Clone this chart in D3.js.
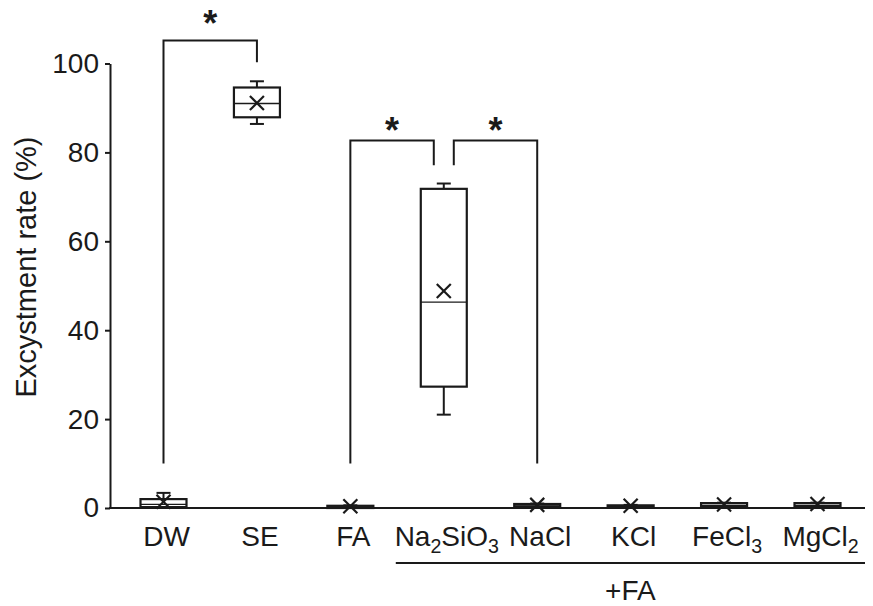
<!DOCTYPE html>
<html>
<head>
<meta charset="utf-8">
<script src="https://cdn.jsdelivr.net/npm/d3@7"></script>
<style>
  body { margin: 0; background: #fff; }
  svg text { font-family: "Liberation Sans", Arial, sans-serif; fill: #1a1a1a; }
</style>
</head>
<body>
<svg id="chart" width="873" height="606"></svg>
<script>
// categories (digits are drawn as subscripts)
const categories = ["DW", "SE", "FA", "Na2SiO3", "NaCl", "KCl", "FeCl3", "MgCl2"];
// box plot stats (%)
const whiskerLow  = [0.0, 86.4, 0.0, 21.0, 0.0, 0.0, 0.0, 0.0];
const q1          = [0.2, 87.9, 0.0, 27.3, 0.3, 0.2, 0.3, 0.3];
const medians     = [0.8, 91.0, 0.2, 46.3, 0.5, 0.4, 0.6, 0.6];
const q3          = [2.0, 94.6, 0.5, 71.8, 0.9, 0.6, 1.1, 1.1];
const whiskerHigh = [3.4, 96.0, 0.6, 73.0, 1.0, 0.7, 1.2, 1.2];
const means       = [1.4, 91.1, 0.4, 48.8, 0.7, 0.5, 0.8, 0.9];
const yTicks = [0, 20, 40, 60, 80, 100];
// significance brackets
const bracketFrom  = ["DW", "FA", "Na2SiO3"];
const bracketTo    = ["SE", "Na2SiO3", "NaCl"];
const bracketTop   = [105.2, 82.7, 82.7];
const bracketFromEnd = [10, 10, 77.1];
const bracketToEnd   = [100.3, 77.1, 10];
const starLevel    = [108.7, 84.6, 84.6];
// group underline
const groupCats = ["Na2SiO3", "MgCl2"];
const groupLabel = "+FA";

const ink = "#1a1a1a";
const svg = d3.select("#chart");

const x = d3.scalePoint().domain(categories).range([163.5, 817.5]);
const y = d3.scaleLinear().domain([0, 100]).range([508, 63.5]);

const boxW = 46, capW = 14, mk = 7;

// axes
const yAxis = svg.append("g")
    .attr("transform", "translate(110,0)")
    .call(d3.axisLeft(y).tickValues(yTicks).tickSize(5).tickSizeOuter(0).tickPadding(6));
yAxis.select(".domain").attr("stroke", ink).attr("stroke-width", 2);
yAxis.selectAll(".tick line").attr("stroke", ink).attr("stroke-width", 2);
yAxis.selectAll(".tick text")
    .attr("font-size", 28)
    .attr("fill", ink)
    .style("font-family", '"Liberation Sans", Arial, sans-serif');

svg.append("line")
    .attr("x1", 109).attr("x2", 865)
    .attr("y1", y(0)).attr("y2", y(0))
    .attr("stroke", ink).attr("stroke-width", 2);

svg.append("text")
    .attr("transform", "translate(36,267) rotate(-90)")
    .attr("text-anchor", "middle")
    .attr("font-size", 29)
    .text("Excystment rate (%)");

// category labels with subscripts
function labelText(sel, name, size) {
  const parts = name.match(/\d+|\D+/g);
  let shift = 0;
  parts.forEach(function(p) {
    const target = /\d/.test(p) ? 7 : 0;
    sel.append("tspan")
      .attr("font-size", target ? size * 0.7 : size)
      .attr("dy", target - shift)
      .text(p);
    shift = target;
  });
}
categories.forEach(function(c) {
  const t = svg.append("text")
      .attr("x", x(c) + 3)
      .attr("y", 546)
      .attr("text-anchor", "middle");
  labelText(t, c, 28);
});

// +FA underline
svg.append("line")
    .attr("x1", x(groupCats[0]) - 48).attr("x2", 865)
    .attr("y1", 563).attr("y2", 563)
    .attr("stroke", ink).attr("stroke-width", 2);
svg.append("text")
    .attr("x", (x(groupCats[0]) - 48 + 865) / 2)
    .attr("y", 600)
    .attr("text-anchor", "middle")
    .attr("font-size", 28)
    .text(groupLabel);

// boxes
const boxes = svg.append("g").selectAll("g")
    .data(categories)
    .join("g");

boxes.each(function(c, i) {
  const g = d3.select(this);
  const cx = x(c);
  const line = function(x1, y1, x2, y2, w) {
    g.append("line")
      .attr("x1", x1).attr("y1", y1).attr("x2", x2).attr("y2", y2)
      .attr("stroke", ink).attr("stroke-width", w);
  };
  // whiskers
  line(cx, y(q3[i]), cx, y(whiskerHigh[i]), 2);
  line(cx, y(q1[i]), cx, y(whiskerLow[i]), 2);
  line(cx - capW / 2, y(whiskerHigh[i]), cx + capW / 2, y(whiskerHigh[i]), 2);
  line(cx - capW / 2, y(whiskerLow[i]), cx + capW / 2, y(whiskerLow[i]), 2);
  // box
  g.append("rect")
    .attr("x", cx - boxW / 2)
    .attr("y", y(q3[i]))
    .attr("width", boxW)
    .attr("height", Math.max(0.5, y(q1[i]) - y(q3[i])))
    .attr("fill", "none")
    .attr("stroke", ink)
    .attr("stroke-width", 2.2);
  line(cx - boxW / 2, y(medians[i]), cx + boxW / 2, y(medians[i]), 1.3);
  // mean marker
  const my = y(means[i]);
  line(cx - mk, my - mk, cx + mk, my + mk, 2.2);
  line(cx - mk, my + mk, cx + mk, my - mk, 2.2);
});

// significance brackets
const legX = function(c, side) {
  const shared = bracketFrom.filter(d => d === c).length + bracketTo.filter(d => d === c).length > 1;
  return x(c) + (shared ? side * 10 : 0);
};
bracketFrom.forEach(function(from, i) {
  const to = bracketTo[i];
  const xa = legX(from, 1), xb = legX(to, -1);
  svg.append("path")
    .attr("d", "M" + xa + "," + y(bracketFromEnd[i]) +
               "V" + y(bracketTop[i]) +
               "H" + xb +
               "V" + y(bracketToEnd[i]))
    .attr("fill", "none")
    .attr("stroke", ink)
    .attr("stroke-width", 2);
  svg.append("text")
    .attr("x", (xa + xb) / 2)
    .attr("y", y(starLevel[i]) + 11)
    .attr("text-anchor", "middle")
    .attr("font-size", 36)
    .attr("font-weight", "bold")
    .text("*");
});
</script>
</body>
</html>
